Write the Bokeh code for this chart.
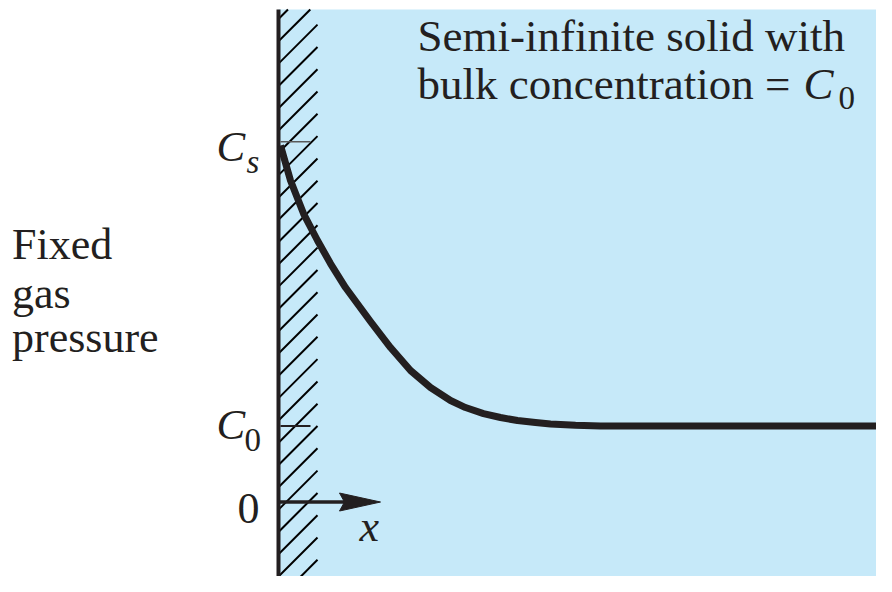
import numpy as np
from bokeh.plotting import figure
from bokeh.models import Range1d
from bokeh.core.properties import value
from bokeh.embed import file_html
from bokeh.resources import INLINE

# ---- data (depth x from surface, concentration C with C0 = 1) ----
depth = [0.02, 0.12, 0.25, 0.39, 0.52, 0.67, 0.92, 1.12, 1.32, 1.52, 1.72,
         1.87, 2.05, 2.22, 2.39, 2.57, 2.72, 2.97, 3.22, 6.2]
conc = [4.691, 4.230, 3.796, 3.441, 3.138, 2.822, 2.375, 2.033, 1.730, 1.507,
        1.336, 1.243, 1.164, 1.112, 1.072, 1.046, 1.026, 1.009, 1.0, 1.0]
C0 = 1.0
Cs = 4.74
tick_labels = ["C", "C", "0"]

INK = "#231f20"
BLUE = "#c6e9f9"
SERIF = value("Liberation Serif")

p = figure(width=876, height=576, x_range=Range1d(-2.78, 5.98),
           y_range=Range1d(-0.980, 6.599), output_backend="svg",
           toolbar_location=None, min_border=0)
p.axis.visible = False
p.grid.visible = False
p.outline_line_color = None
p.background_fill_color = "white"
p.border_fill_color = "white"

top = 6.48
bottom = -1.3
# solid region
p.quad(left=0, right=6.3, bottom=bottom, top=top, fill_color=BLUE, line_color=None)

# hatch strip at surface (45 deg in screen space)
px_y = 1 / 76.0
hatch_w = 0.39
rise = 39 * px_y
x0s, y0s, x1s, y1s = [], [], [], []
for k in range(-8, 25):
    yref = 130 + 22.3 * k
    y0 = (501.5 - yref) * px_y
    if y0 >= top:
        continue
    y1 = y0 + rise
    x1 = hatch_w
    if y1 > top:
        x1 = hatch_w * (top - y0) / rise
        y1 = top
    x0s.append(0.0); y0s.append(y0); x1s.append(x1); y1s.append(y1)
p.segment(x0=x0s, y0=y0s, x1=x1s, y1=y1s, line_color="black", line_width=2)

# surface wall
p.segment(x0=[0], y0=[bottom], x1=[0], y1=[top], line_color=INK, line_width=4)

# ticks
p.segment(x0=[0.02], y0=[Cs], x1=[0.32], y1=[Cs], line_color="#5a5a5a", line_width=1.5)
p.segment(x0=[0.02], y0=[C0], x1=[0.32], y1=[C0], line_color=INK, line_width=2)

# concentration profile
p.line(depth, conc, line_width=7, line_color=INK, line_join="round")

# x arrow
p.segment(x0=[0], y0=[0], x1=[0.68], y1=[0], line_color=INK, line_width=3.5)
hw = 9 * px_y
p.patch([1.02, 0.61, 0.66, 0.61], [0, hw, 0, -hw], fill_color=INK, line_color=INK, line_width=1)

DY = 14 * px_y  # baseline correction for text rendering

def txt(x, y, s, size, style="normal"):
    p.text(x=[x], y=[y + DY], text=[s], text_font=SERIF, text_font_size=size,
           text_font_style=style, text_color=INK, text_align="left",
           text_baseline="alphabetic")

txt(1.39, 5.954, "Semi-infinite solid with", "45px")
txt(1.39, 5.322, "bulk concentration =", "45px")
txt(5.25, 5.322, "C", "45px", "italic")
txt(5.60, 5.129, "0", "33px")

txt(-2.665, 3.200, "Fixed", "44px")
txt(-2.665, 2.563, "gas", "44px")
txt(-2.665, 1.980, "pressure", "44px")

txt(-0.62, 4.493, tick_labels[0], "43px", "italic")
txt(-0.32, 4.296, "s", "33px", "italic")
txt(-0.62, 0.8355, tick_labels[1], "43px", "italic")
txt(-0.34, 0.638, "0", "33px")
txt(-0.41, -0.266, tick_labels[2], "44px")
txt(0.81, -0.507, "x", "44px", "italic")

open("out.html", "w").write(file_html(p, INLINE))
